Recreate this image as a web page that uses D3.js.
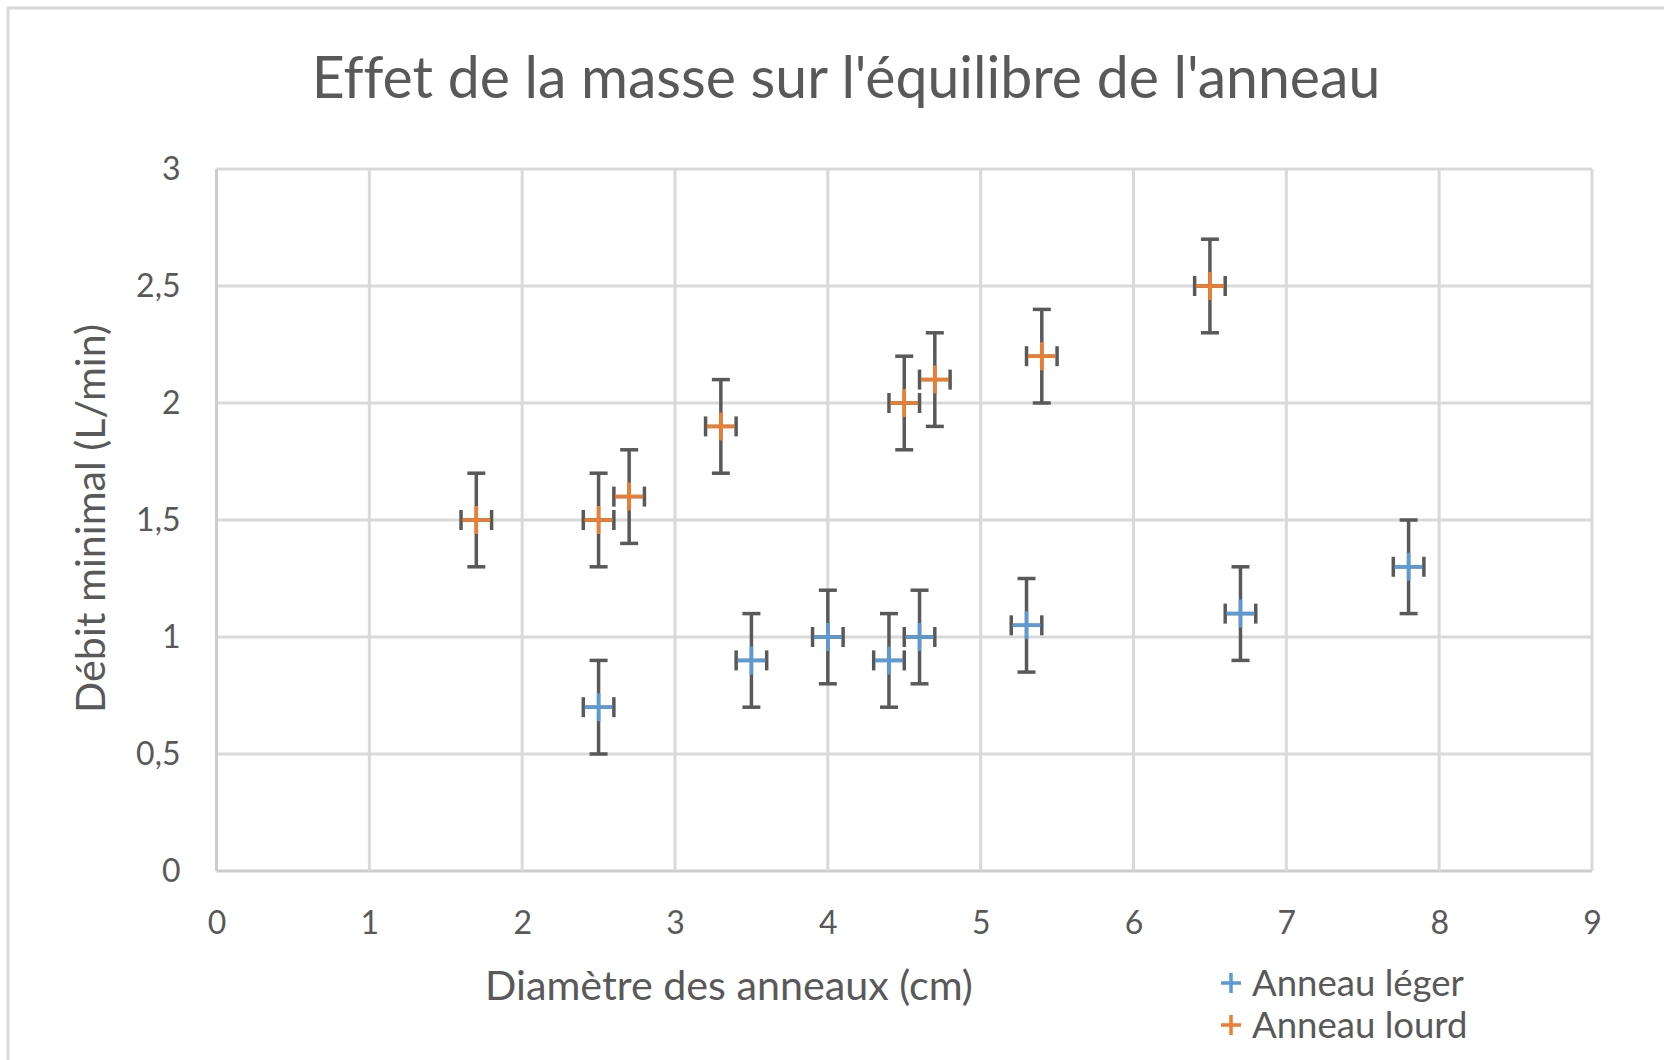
<!DOCTYPE html>
<html>
<head>
<meta charset="utf-8">
<script src="https://cdn.jsdelivr.net/npm/d3@7"></script>
<style>
  html, body { margin:0; padding:0; background:#fff; }
  svg { display:block; font-family: Lato, "Open Sans", sans-serif; font-variant-ligatures: none; }
</style>
</head>
<body>
<div id="chart"></div>
<script>
// valeurs
var diametreLeger = [2.5, 3.5, 4.0, 4.4, 4.6, 5.3, 6.7, 7.8];
var debitLeger    = [0.7, 0.9, 1.0, 0.9, 1.0, 1.05, 1.1, 1.3];
var diametreLourd = [1.7, 2.5, 2.7, 3.3, 4.5, 4.7, 5.4, 6.5];
var debitLourd    = [1.5, 1.5, 1.6, 1.9, 2.0, 2.1, 2.2, 2.5];
var erreurX = 0.1;
var erreurY = 0.2;

var xTicks = [0, 1, 2, 3, 4, 5, 6, 7, 8, 9];
var yTicks = [0, 0.5, 1, 1.5, 2, 2.5, 3];
var yTickLabels = ["0", "0,5", "1", "1,5", "2", "2,5", "3"];
var seriesNames = ["Anneau léger", "Anneau lourd"];
var seriesColors = ["#5b9bd5", "#ed7d31"];

var titre = "Effet de la masse sur l'équilibre de l'anneau";
var titreX = "Diamètre des anneaux (cm)";
var titreY = "Débit minimal (L/min)";

function fitText(text, width){
  var w = text.node().getComputedTextLength();
  var fs = parseFloat(text.attr("font-size"));
  text.attr("font-size", fs * width / w);
}

function drawChart(){
  var W = 1664, H = 1060;
  var margin = {top:169, right:72, bottom:189, left:216.5};
  var width = W - margin.left - margin.right,
      height = H - margin.top - margin.bottom;

  var svg = d3.select("#chart").append("svg").attr("width", W).attr("height", H);

  // cadre du graphique (coupe a droite et en bas)
  svg.append("rect").attr("x", 8).attr("y", 8).attr("width", W + 20).attr("height", H + 20)
    .attr("fill", "#fff").attr("stroke", "#d9d9d9").attr("stroke-width", 3);

  var g = svg.append("g").attr("transform", "translate(" + margin.left + "," + margin.top + ")");

  var x = d3.scaleLinear().domain([0, 9]).range([0, width]);
  var y = d3.scaleLinear().domain([0, 3]).range([height, 0]);

  // grille
  g.append("g").selectAll("line").data(yTicks).enter().append("line")
    .attr("x1", 0).attr("x2", width)
    .attr("y1", function(d){ return y(d); }).attr("y2", function(d){ return y(d); })
    .attr("stroke", function(d){ return d == 0 ? "#cccccc" : "#d9d9d9"; })
    .attr("stroke-width", 3);
  g.append("g").selectAll("line").data(xTicks).enter().append("line")
    .attr("y1", 0).attr("y2", height)
    .attr("x1", function(d){ return x(d); }).attr("x2", function(d){ return x(d); })
    .attr("stroke", function(d){ return d == 0 ? "#cccccc" : "#d9d9d9"; })
    .attr("stroke-width", 3);

  // axes (labels seulement)
  var xAxis = g.append("g").attr("transform", "translate(0," + height + ")")
    .call(d3.axisBottom(x).tickValues(xTicks).tickSize(0).tickPadding(36).tickFormat(function(d){ return d; }));
  var yAxis = g.append("g")
    .call(d3.axisLeft(y).tickValues(yTicks).tickSize(0).tickPadding(36)
      .tickFormat(function(d, i){ return yTickLabels[i]; }));
  [xAxis, yAxis].forEach(function(a){
    a.select(".domain").remove();
    a.selectAll("text").attr("fill", "#595959").attr("font-size", 32).attr("font-family", "Lato, sans-serif");
  });
  xAxis.selectAll("text").attr("dy", "0.35em").attr("y", 52);

  var series = [
    {name: seriesNames[0], color: seriesColors[0], xs: diametreLeger, ys: debitLeger},
    {name: seriesNames[1], color: seriesColors[1], xs: diametreLourd, ys: debitLourd}
  ];

  var capY = 9, capX = 10, arm = 14;
  series.forEach(function(s){
    var pts = s.xs.map(function(d, i){ return {x: d, y: s.ys[i]}; });
    var eb = g.append("g").attr("stroke", "#595959").attr("stroke-width", 3.5).attr("fill", "none");
    pts.forEach(function(p){
      var cx = x(p.x), cy = y(p.y);
      var y0 = y(p.y - erreurY), y1 = y(p.y + erreurY);
      var x0 = x(p.x - erreurX), x1 = x(p.x + erreurX);
      eb.append("line").attr("x1", cx).attr("x2", cx).attr("y1", y0).attr("y2", y1);
      eb.append("line").attr("x1", cx - capY).attr("x2", cx + capY).attr("y1", y0).attr("y2", y0);
      eb.append("line").attr("x1", cx - capY).attr("x2", cx + capY).attr("y1", y1).attr("y2", y1);
      eb.append("line").attr("x1", x0).attr("x2", x1).attr("y1", cy).attr("y2", cy);
      eb.append("line").attr("x1", x0).attr("x2", x0).attr("y1", cy - capX).attr("y2", cy + capX);
      eb.append("line").attr("x1", x1).attr("x2", x1).attr("y1", cy - capX).attr("y2", cy + capX);
    });
    g.append("g").selectAll("path").data(pts).enter().append("path")
      .attr("d", function(d){
        var cx = x(d.x), cy = y(d.y);
        return "M" + (cx - arm) + "," + cy + "H" + (cx + arm) + "M" + cx + "," + (cy - arm) + "V" + (cy + arm);
      })
      .attr("stroke", s.color).attr("stroke-width", 3.5).attr("fill", "none");
  });

  // titres
  var t = svg.append("text").attr("x", 846).attr("y", 98).attr("text-anchor", "middle")
    .attr("fill", "#595959").attr("font-size", 50).text(titre);
  fitText(t, 1069);

  var tx = svg.append("text").attr("x", 729).attr("y", 1000).attr("text-anchor", "middle")
    .attr("fill", "#595959").attr("font-size", 34).text(titreX);
  fitText(tx, 488);

  var ty = svg.append("text").attr("transform", "translate(105,518.5) rotate(-90)").attr("text-anchor", "middle")
    .attr("fill", "#595959").attr("font-size", 34).text(titreY);
  fitText(ty, 389);

  // legende
  var leg = svg.append("g");
  var legY = [983, 1025];
  series.forEach(function(s, i){
    var ly = legY[i];
    leg.append("path").attr("d", "M1221," + ly + "H1241M1231," + (ly - 10) + "V" + (ly + 10))
      .attr("stroke", s.color).attr("stroke-width", 3.5);
    var lt = leg.append("text").attr("x", 1252).attr("y", ly).attr("dy", "0.35em")
      .attr("fill", "#595959").attr("font-size", 32).text(s.name);
    if(i == 0) fitText(lt, 212);
    else lt.attr("font-size", leg.select("text").attr("font-size"));
  });
}

drawChart();
</script>
</body>
</html>
